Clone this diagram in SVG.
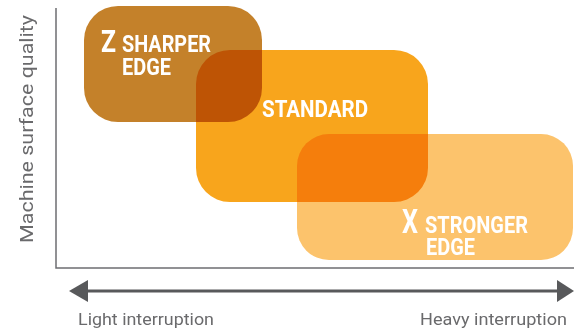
<svg xmlns="http://www.w3.org/2000/svg" width="574" height="330" viewBox="0 0 574 330">
<style>
.box{mix-blend-mode:multiply}
.lbl{font-family:"Liberation Sans Narrow","Roboto","Liberation Sans",sans-serif;font-weight:bold;fill:#ffffff}
.axis{font-family:"Roboto","Open Sans","Liberation Sans",sans-serif;fill:#6a6a6c}
</style>
<rect width="574" height="330" fill="#ffffff"/>
<g id="axes" fill="none" stroke="#6d6e71" stroke-width="1.5">
<polyline points="56,8 56,268 574,268"/>
</g>
<g id="boxes" style="isolation:isolate">
<g id="standard">
<rect class="box" x="196" y="50" width="232" height="152" rx="34" fill="#f8a51c"/>
</g>
<g id="z-sharper">
<rect class="box" x="84" y="6" width="178" height="116" rx="34" fill="#c4812a"/>
</g>
<g id="x-stronger">
<rect class="box" x="297" y="134" width="276" height="126" rx="32" fill="#fcc36c"/>
</g>
</g>
<g id="labels">
<text class="lbl" x="101" y="52" font-size="32" textLength="15" lengthAdjust="spacingAndGlyphs">Z</text>
<text class="lbl" x="122" y="52" font-size="23.5" textLength="89" lengthAdjust="spacingAndGlyphs">SHARPER</text>
<text class="lbl" x="122" y="75" font-size="23" textLength="49" lengthAdjust="spacingAndGlyphs">EDGE</text>
<text class="lbl" x="262" y="117" font-size="23.5" textLength="106" lengthAdjust="spacingAndGlyphs">STANDARD</text>
<text class="lbl" x="402" y="233" font-size="33" textLength="16" lengthAdjust="spacingAndGlyphs">X</text>
<text class="lbl" x="425" y="233" font-size="23.5" textLength="103" lengthAdjust="spacingAndGlyphs">STRONGER</text>
<text class="lbl" x="426" y="255" font-size="23" textLength="49" lengthAdjust="spacingAndGlyphs">EDGE</text>
</g>
<g id="connectors">
<line x1="86" y1="291" x2="558" y2="291" stroke="#58595b" stroke-width="3"/>
<polygon points="69,291 88,280 88,302" fill="#58595b"/>
<polygon points="574,291 557,280 557,302" fill="#58595b"/>
</g>
<g id="axis-labels">
<text class="axis" x="0" y="0" font-size="19" textLength="228" lengthAdjust="spacingAndGlyphs" transform="translate(33,243) rotate(-90)">Machine surface quality</text>
<text class="axis" x="78" y="325" font-size="16.5" textLength="136" lengthAdjust="spacingAndGlyphs">Light interruption</text>
<text class="axis" x="420" y="325" font-size="16.5" textLength="147" lengthAdjust="spacingAndGlyphs">Heavy interruption</text>
</g>
</svg>
